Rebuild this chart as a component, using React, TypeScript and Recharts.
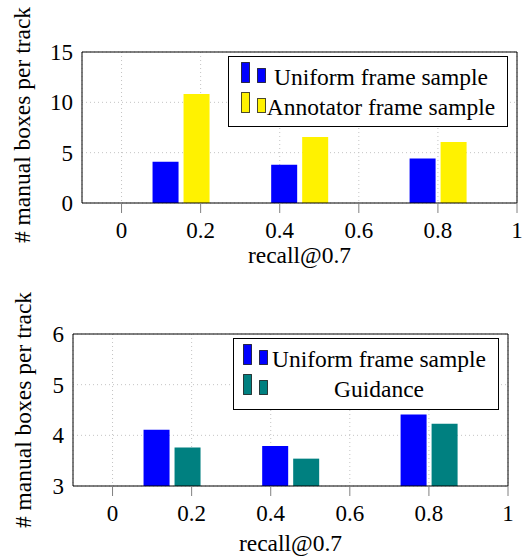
import React from 'react';
import { BarChart, Bar, XAxis, YAxis, CartesianGrid, Legend } from 'recharts';

// recall@0.7 group positions and measured bar heights
const recall = [0.15, 0.45, 0.8];
const uniform = [4.11, 3.79, 4.41];
const annotator = [10.83, 6.56, 6.06];
const guidance = [3.76, 3.54, 4.23];

const xTicks = [0, 0.2, 0.4, 0.6, 0.8, 1];
const topYTicks = [0, 5, 10, 15];
const bottomYTicks = [3, 4, 5, 6];

const FONT = '"Liberation Serif", "Times New Roman", serif';
const COLORS = {
  blue: '#0000ff',
  yellow: '#fff200',
  teal: '#008080',
  tick: '#808080',
  grid: '#c4c4c4',
};

const AxisTitle = ({ px, py, text, vertical }: any) => (
  <text
    x={px}
    y={py}
    textAnchor="middle"
    fill="#000"
    fontFamily={FONT}
    fontSize={23.5}
    transform={vertical ? `rotate(-90, ${px}, ${py})` : undefined}
  >
    {text}
  </text>
);

const LegendBox = ({ entries, w, h, iconLeft, textCenter }: any) => (
  <div
    style={{
      width: w,
      height: h,
      boxSizing: 'border-box',
      border: '1px solid #000',
      background: '#fff',
      position: 'relative',
      fontFamily: FONT,
      fontSize: 23.5,
      color: '#000',
    }}
  >
    {entries.map((e: any, i: number) => (
      <div key={e.name} style={{ position: 'absolute', left: 0, top: 5 + i * 30, width: '100%', height: 30 }}>
        <svg width={26} height={22} style={{ position: 'absolute', left: iconLeft, top: 0 }}>
          <rect x={0.5} y={0.5} width={8} height={20} fill={e.color} stroke="#000" strokeOpacity={0.7} />
          <rect x={16.5} y={6.5} width={8} height={14} fill={e.color} stroke="#000" strokeOpacity={0.7} />
        </svg>
        <span
          style={{
            position: 'absolute',
            left: textCenter - 150,
            width: 300,
            textAlign: 'center',
            lineHeight: '30px',
            top: 0,
            whiteSpace: 'nowrap',
          }}
        >
          {e.name}
        </span>
      </div>
    ))}
  </div>
);

const Panel = ({ top, height, plotLeft, plotRight, plotTop, plotBottom, series, yTicks, legend, titleX, titleY, xTitleBase }: any) => {
  const data = recall.map((r, i) => ({ recall: r, a: series[0].values[i], b: series[1].values[i] }));
  const tickStyle = { fill: '#000', fontSize: 23, fontFamily: FONT };
  return (
    <div style={{ position: 'absolute', left: 0, top, width: 530, height }}>
      <BarChart width={530} height={height} data={data} margin={{ top: 0, right: 0, bottom: 0, left: 0 }} barGap={5}>
        <CartesianGrid stroke={COLORS.grid} strokeDasharray="1 3" />
        <XAxis
          dataKey="recall"
          type="number"
          domain={[-0.1, 1]}
          ticks={xTicks}
          allowDataOverflow
          height={height - plotBottom}
          tickSize={10}
          tickMargin={9}
          tickLine={{ stroke: COLORS.tick }}
          axisLine={{ stroke: '#000' }}
          tick={tickStyle}
          label={<AxisTitle px={(plotLeft + plotRight) / 2} py={xTitleBase} text="recall@0.7" />}
        />
        <XAxis
          xAxisId="top"
          orientation="top"
          type="number"
          domain={[-0.1, 1]}
          ticks={xTicks}
          allowDataOverflow
          height={plotTop}
          tickSize={10}
          tick={false}
          tickLine={{ stroke: COLORS.tick }}
          axisLine={{ stroke: '#000' }}
        />
        <YAxis
          type="number"
          domain={[yTicks[0], yTicks[yTicks.length - 1]]}
          ticks={yTicks}
          allowDataOverflow
          width={plotLeft}
          tickSize={0}
          tickMargin={9}
          tickLine={false}
          axisLine={{ stroke: '#000' }}
          tick={tickStyle}
          label={<AxisTitle px={titleX} py={titleY} text="# manual boxes per track" vertical />}
        />
        <YAxis
          yAxisId="right"
          orientation="right"
          type="number"
          domain={[yTicks[0], yTicks[yTicks.length - 1]]}
          ticks={yTicks}
          allowDataOverflow
          width={530 - plotRight}
          tickSize={8}
          tick={false}
          tickLine={{ stroke: COLORS.tick }}
          axisLine={{ stroke: '#000' }}
        />
        <Legend
          layout="horizontal"
          verticalAlign="middle"
          align="center"
          wrapperStyle={{ left: legend.left, top: legend.top, width: legend.w, height: legend.h }}
          content={() => (
            <LegendBox
              entries={series}
              w={legend.w}
              h={legend.h}
              iconLeft={legend.iconLeft}
              textCenter={legend.textCenter}
            />
          )}
        />
        <Bar dataKey="a" name={series[0].name} fill={series[0].color} barSize={26} isAnimationActive={false} />
        <Bar dataKey="b" name={series[1].name} fill={series[1].color} barSize={26} isAnimationActive={false} />
      </BarChart>
    </div>
  );
};

export default function App() {
  return (
    <div style={{ position: 'absolute', left: 0, top: 0, width: 530, height: 556, background: '#fff' }}>
      <Panel
        top={0}
        height={280}
        plotLeft={82}
        plotRight={517}
        plotTop={52}
        plotBottom={203}
        yTicks={topYTicks}
        titleX={30}
        titleY={125}
        xTitleBase={263}
        series={[
          { name: 'Uniform frame sample', values: uniform, color: COLORS.blue },
          { name: 'Annotator frame sample', values: annotator, color: COLORS.yellow },
        ]}
        legend={{ left: 228, top: 56, w: 280, h: 71, iconLeft: 12, textCenter: 152 }}
      />
      <Panel
        top={280}
        height={276}
        plotLeft={73}
        plotRight={508}
        plotTop={54}
        plotBottom={206}
        yTicks={bottomYTicks}
        titleX={31}
        titleY={130}
        xTitleBase={271}
        series={[
          { name: 'Uniform frame sample', values: uniform, color: COLORS.blue },
          { name: 'Guidance', values: guidance, color: COLORS.teal },
        ]}
        legend={{ left: 233, top: 58, w: 266, h: 72, iconLeft: 9, textCenter: 145 }}
      />
    </div>
  );
}
